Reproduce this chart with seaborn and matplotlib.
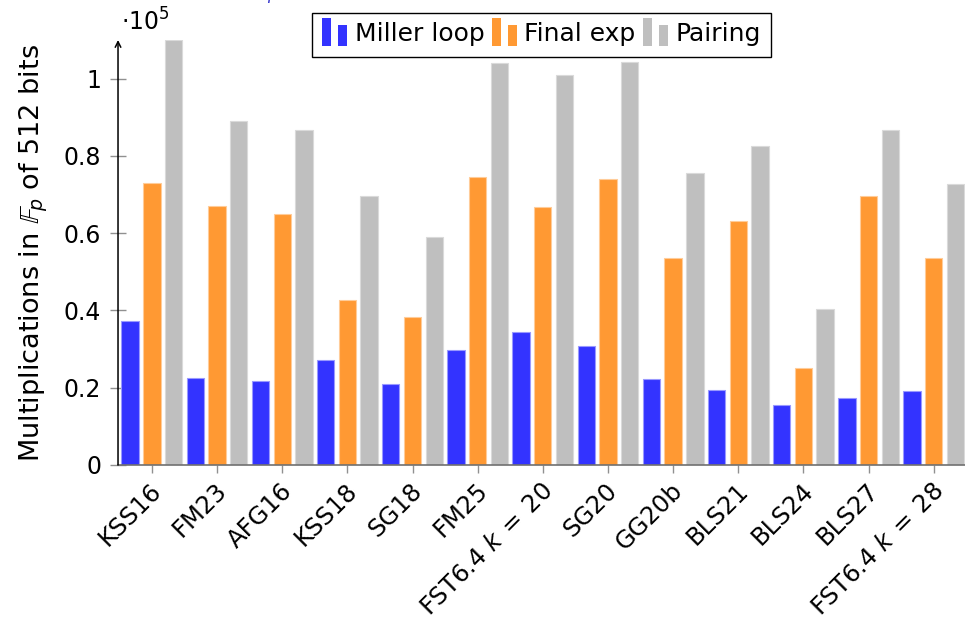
import matplotlib
matplotlib.use("Agg")
import matplotlib.pyplot as plt
import matplotlib.transforms as mtransforms
import pandas as pd
import seaborn as sns
from matplotlib.legend_handler import HandlerBase
from matplotlib.patches import Patch, Rectangle
from matplotlib.ticker import FuncFormatter

curves = [
    "KSS16", "FM23", "AFG16", "KSS18", "SG18", "FM25", r"FST6.4 $k\:=\:20$",
    "SG20", "GG20b", "BLS21", "BLS24", "BLS27", r"FST6.4 $k\:=\:28$",
]
miller_loop = [37200, 22400, 21800, 27100, 20900, 29800, 34500,
               30700, 22300, 19500, 15600, 17400, 19200]
final_exp = [73100, 67100, 65000, 42700, 38400, 74600, 66800,
             74100, 53600, 63200, 25200, 69700, 53600]
pairing = [110000, 89100, 86800, 69600, 59100, 104100, 101000,
           104400, 75600, 82600, 40500, 86800, 72800]
parts = ["Miller loop", "Final exp", "Pairing"]
colors = ["#3333ff", "#ff9933", "#bfbfbf"]
edges = ["#9999ff", "#ffcc99", "#dadada"]

df = pd.DataFrame({"curve": curves, "Miller loop": miller_loop,
                   "Final exp": final_exp, "Pairing": pairing})
df = df.melt(id_vars="curve", var_name="part", value_name="mults")

sns.set_style("white")
plt.rcParams["font.family"] = ["DejaVu Sans"]
plt.rcParams["mathtext.fontset"] = "dejavusans"
plt.rcParams["text.color"] = "black"
plt.rcParams["axes.labelcolor"] = "black"
plt.rcParams["xtick.labelcolor"] = "black"
plt.rcParams["ytick.labelcolor"] = "black"


class TwoBars(HandlerBase):
    # pgfplots style ybar legend image: two small bars
    def create_artists(self, legend, orig, xd, yd, w, h, fontsize, trans):
        c = orig.get_facecolor()
        bw = w * 0.36
        r1 = Rectangle((xd, yd - 0.25 * h), bw, h * 1.6, facecolor=c,
                       edgecolor="none", transform=trans)
        r2 = Rectangle((xd + w - bw, yd - 0.25 * h), bw, h * 1.2, facecolor=c,
                       edgecolor="none", transform=trans)
        return [r1, r2]


fig = plt.figure(figsize=(9.65, 6.25), dpi=100)
ax = fig.add_axes([0.1223, 0.256, 0.8777, 0.68])

sns.barplot(data=df, x="curve", y="mults", hue="part", hue_order=parts,
            palette=colors, width=1.0, gap=0.2, saturation=1, legend=False,
            ax=ax)
for cont, ec in zip(ax.containers, edges):
    for p in cont:
        p.set_edgecolor(ec)
        p.set_linewidth(0.8)

ax.set_xlim(-0.52, 12.48)
ax.set_ylim(0, 110000)
ax.set_yticks([0, 20000, 40000, 60000, 80000, 100000])
ax.yaxis.set_major_formatter(FuncFormatter(lambda v, _: f"{v / 1e5:g}"))
ax.set_xlabel("")
ax.set_ylabel(r"Multiplications in $\mathbb{F}_p$ of 512 bits", fontsize=19.5,
              labelpad=10)

for s in ["top", "right", "left"]:
    ax.spines[s].set_visible(False)
ax.spines["bottom"].set_color("#707070")
ax.spines["bottom"].set_linewidth(1.2)
ax.annotate("", xy=(0, 1.0), xytext=(0, 0), xycoords="axes fraction",
            arrowprops=dict(arrowstyle="->", lw=1.1, color="black",
                            shrinkA=0, shrinkB=0))

ax.tick_params(axis="y", direction="inout", length=12, width=1,
               color="#909090", labelsize=17, pad=6, left=True)
ax.tick_params(axis="x", direction="out", length=6, width=1,
               color="#909090", labelsize=17.5, pad=4, bottom=True)
shift = mtransforms.ScaledTranslation(6 / 100, -8 / 100, fig.dpi_scale_trans)
for lab in ax.get_xticklabels():
    lab.set_rotation(45)
    lab.set_ha("right")
    lab.set_va("center")
    lab.set_rotation_mode("anchor")
    lab.set_transform(lab.get_transform() + shift)

fig.text(121 / 965, 1 - 31 / 625, r"$\cdot 10^{5}$", fontsize=17,
         ha="left", va="baseline")

handles = [Patch(facecolor=c) for c in colors]
ax.legend(handles, parts, handler_map={Patch: TwoBars()}, loc="center",
          bbox_to_anchor=(0.5, 1 + 5.5 / 425), ncol=3, fontsize=18,
          frameon=True, fancybox=False, edgecolor="black", framealpha=1,
          handlelength=1.0, handletextpad=0.3, columnspacing=0.3,
          borderpad=0.4, borderaxespad=0)

fig.text(0.47, 1 + 4 / 625, r"Cost in $\mathbb{F}_p$ of pairings for $p$ prime of size $\log_2 p_{512}$",
         color="#3333cc", fontsize=17, ha="center", va="baseline")

fig.savefig("out.png", dpi=100)
